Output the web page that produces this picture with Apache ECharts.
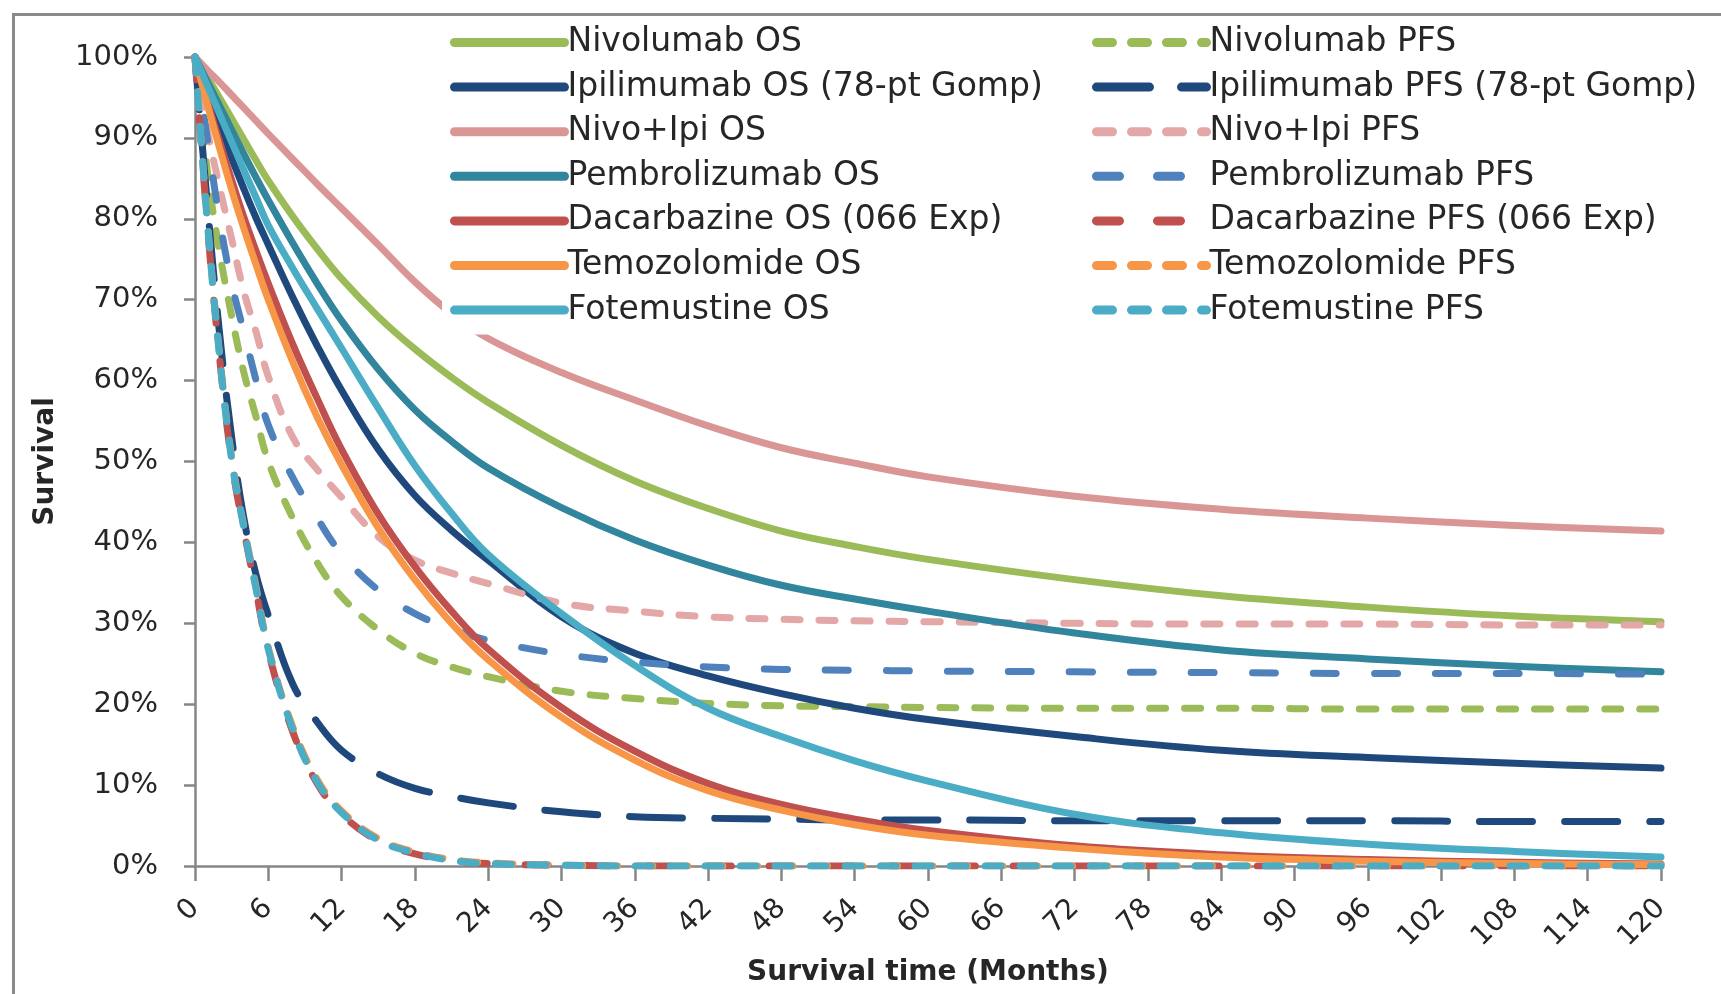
<!DOCTYPE html>
<html>
<head>
<meta charset="utf-8">
<title>Modelled OS and PFS curves</title>
<script src="https://cdn.jsdelivr.net/npm/echarts@6/dist/echarts.min.js"></script>
<style>
  html, body { margin: 0; padding: 0; background: #ffffff; }
  #chart { width: 1721px; height: 994px; }
</style>
</head>
<body>
<div id="chart"></div>
<script>
// Time points (months) shared by every curve
const months = [0, 1, 2, 3, 4, 5, 6, 8, 10, 12, 15, 18, 21, 24, 30, 36, 42, 48, 54, 60, 72, 84, 96, 108, 120];

// Survival (%) at each time point
const nivolumabOS      = [100, 97.5, 95, 92.4, 89.8, 87.2, 84.7, 80.3, 76.3, 72.6, 67.9, 63.9, 60.4, 57.3, 52, 47.6, 44.2, 41.4, 39.5, 37.9, 35.4, 33.4, 32.0, 30.9, 30.2];
const nivolumabPFS     = [100, 86, 76, 68, 61, 55.5, 50, 43, 37.5, 33.3, 29.2, 26.3, 24.6, 23.4, 21.6, 20.7, 20.1, 19.8, 19.7, 19.6, 19.5, 19.5, 19.4, 19.4, 19.4];
const ipilimumabOS     = [100, 95.7, 91.5, 87.5, 83.7, 80.1, 76.8, 70.3, 64.3, 58.8, 51.5, 45.8, 41.5, 37.8, 30.8, 26.3, 23.5, 21.3, 19.5, 18.1, 16.0, 14.3, 13.4, 12.7, 12.1];
const ipilimumabPFS    = [100, 82, 66, 53, 43, 36, 31, 22.5, 17.8, 14.3, 11.4, 9.6, 8.6, 7.8, 6.7, 6.1, 5.9, 5.8, 5.7, 5.7, 5.6, 5.6, 5.6, 5.5, 5.5];
const nivoIpiOS        = [100, 98.4, 96.9, 95.3, 93.7, 92.1, 90.5, 87.4, 84.3, 81.3, 76.8, 72.2, 68.3, 65.2, 61.0, 57.6, 54.4, 51.7, 49.8, 48.1, 45.7, 44.1, 43.0, 42.1, 41.4];
const nivoIpiPFS       = [100, 91, 84, 77.5, 71, 66, 60.5, 53, 49, 45.6, 40.7, 37.8, 36.2, 34.9, 32.5, 31.5, 30.8, 30.5, 30.3, 30.2, 30.0, 29.9, 29.9, 29.8, 29.8];
const pembrolizumabOS  = [100, 97, 94, 91, 88, 85.1, 82.3, 77, 72, 67.4, 61.4, 56.4, 52.5, 49.2, 44.3, 40.3, 37.2, 34.7, 33.0, 31.5, 28.8, 26.7, 25.6, 24.7, 24.0];
const pembrolizumabPFS = [100, 90, 80, 72, 66, 60, 54.5, 48, 43, 38.6, 34.1, 31.2, 29.3, 27.9, 26.2, 25.2, 24.6, 24.3, 24.2, 24.1, 24.0, 23.9, 23.8, 23.8, 23.7];
const dacarbazineOS    = [100, 94.6, 89.6, 84.8, 80.2, 76, 72, 64.5, 57.8, 51.5, 43.5, 37, 31.5, 26.8, 19.6, 14.2, 10.2, 7.6, 5.8, 4.4, 2.5, 1.4, 0.8, 0.45, 0.25];
const dacarbazinePFS   = [100, 79.5, 63, 50, 41.5, 34, 26.5, 16.6, 10.2, 6.4, 3.1, 1.5, 0.7, 0.3, 0.1, 0, 0, 0, 0, 0, 0, 0, 0, 0, 0];
const temozolomideOS   = [100, 94.2, 88.8, 83.6, 78.8, 74.3, 70, 62.3, 55.5, 49.6, 41.8, 35.4, 30, 25.5, 18.4, 13.1, 9.3, 6.9, 5.1, 3.8, 2.2, 1.1, 0.6, 0.3, 0.15];
const temozolomidePFS  = [100, 80, 63.5, 50.5, 42, 34.5, 27, 17.2, 10.7, 6.8, 3.4, 1.7, 0.8, 0.4, 0.1, 0, 0, 0, 0, 0, 0, 0, 0, 0, 0];
const fotemustineOS    = [100, 96.5, 93, 89.5, 86, 82.6, 79.2, 73.9, 68.9, 64, 56.6, 49.5, 43.6, 38.5, 31.2, 24.8, 19.5, 16.0, 13.0, 10.5, 6.4, 4.1, 2.7, 1.8, 1.1];
const fotemustinePFS   = [100, 79.8, 63.2, 50.2, 41.8, 34.2, 26.8, 16.9, 10.4, 6.6, 3.2, 1.6, 0.7, 0.3, 0.1, 0, 0, 0, 0, 0, 0, 0, 0, 0, 0];

// Axis ticks
const xTicks = { min: 0, max: 120, step: 6 };
const yTicks = { min: 0, max: 100, step: 10 };

// Dash patterns (line width 7, round caps)
const DASH_SHORT = [16, 19];
const DASH_MED = [23, 38];
const DASH_LONG = [53, 32];

const curves = [
  { name: 'Nivolumab OS', values: nivolumabOS, color: '#9BBB59', dash: 'solid' },
  { name: 'Nivolumab PFS', values: nivolumabPFS, color: '#9BBB59', dash: DASH_SHORT },
  { name: 'Ipilimumab OS (78-pt Gomp)', values: ipilimumabOS, color: '#1F497D', dash: 'solid' },
  { name: 'Ipilimumab PFS (78-pt Gomp)', values: ipilimumabPFS, color: '#1F497D', dash: DASH_LONG },
  { name: 'Nivo+Ipi OS', values: nivoIpiOS, color: '#D99694', dash: 'solid' },
  { name: 'Nivo+Ipi PFS', values: nivoIpiPFS, color: '#E2A7A6', dash: DASH_SHORT },
  { name: 'Pembrolizumab OS', values: pembrolizumabOS, color: '#31859C', dash: 'solid' },
  { name: 'Pembrolizumab PFS', values: pembrolizumabPFS, color: '#4F81BD', dash: DASH_MED },
  { name: 'Dacarbazine OS (066 Exp)', values: dacarbazineOS, color: '#C0504D', dash: 'solid' },
  { name: 'Dacarbazine PFS (066 Exp)', values: dacarbazinePFS, color: '#C0504D', dash: DASH_MED },
  { name: 'Temozolomide OS', values: temozolomideOS, color: '#F79646', dash: 'solid' },
  { name: 'Temozolomide PFS', values: temozolomidePFS, color: '#F79646', dash: DASH_SHORT },
  { name: 'Fotemustine OS', values: fotemustineOS, color: '#4BACC6', dash: 'solid' },
  { name: 'Fotemustine PFS', values: fotemustinePFS, color: '#4BACC6', dash: DASH_SHORT }
];

const FONT = '"DejaVu Sans", "Liberation Sans", sans-serif';
const AXIS_GREY = '#868686';
const TEXT_DARK = '#262626';

const series = curves.map(c => ({
  name: c.name,
  type: 'line',
  data: months.map((m, i) => [m, c.values[i]]),
  symbol: 'none',
  smooth: 0.4,
  clip: true,
  silent: true,
  lineStyle: { color: c.color, width: 7, type: c.dash, cap: 'round', join: 'round' },
  itemStyle: { color: c.color },
  emphasis: { disabled: true },
  z: 2
}));

function legendBlock(left, names) {
  return {
    orient: 'vertical',
    left: left,
    top: 18,
    padding: [8, 10, 8, 8],
    backgroundColor: '#ffffff',
    itemWidth: 110,
    itemHeight: 14,
    itemGap: 11.6,
    selectedMode: false,
    z: 10,
    data: names,
    itemStyle: { opacity: 0, borderWidth: 0 },
    lineStyle: { width: 9, cap: 'round' },
    textStyle: { fontFamily: FONT, fontSize: 33, lineHeight: 33, color: TEXT_DARK, padding: [0, 0, 0, -2] }
  };
}

const chart = echarts.init(document.getElementById('chart'), null, { renderer: 'canvas' });

chart.setOption({
  animation: false,
  backgroundColor: '#ffffff',
  grid: { left: 195, right: 60, top: 57, bottom: 128, containLabel: false, outerBoundsMode: 'none' },
  legend: [
    legendBlock(442, curves.filter((c, i) => i % 2 === 0).map(c => c.name)),
    legendBlock(1084, curves.filter((c, i) => i % 2 === 1).map(c => c.name))
  ],
  xAxis: {
    type: 'value',
    min: xTicks.min,
    max: xTicks.max,
    interval: xTicks.step,
    name: 'Survival time (Months)',
    nameLocation: 'middle',
    nameGap: 92,
    nameTextStyle: { fontFamily: FONT, fontSize: 28, fontWeight: 'bold', color: TEXT_DARK },
    axisLine: { show: true, onZero: false, lineStyle: { color: AXIS_GREY, width: 2.5 } },
    axisTick: { show: true, length: 15, lineStyle: { color: AXIS_GREY, width: 2.5 } },
    axisLabel: { rotate: 45, margin: 38, fontFamily: FONT, fontSize: 28, color: TEXT_DARK },
    splitLine: { show: false }
  },
  yAxis: {
    type: 'value',
    min: yTicks.min,
    max: yTicks.max,
    interval: yTicks.step,
    name: 'Survival',
    nameLocation: 'middle',
    nameRotate: 90,
    nameGap: 135,
    nameTextStyle: { fontFamily: FONT, fontSize: 28, fontWeight: 'bold', color: TEXT_DARK },
    axisLine: { show: true, lineStyle: { color: AXIS_GREY, width: 2.5 } },
    axisTick: { show: true, length: 11, lineStyle: { color: AXIS_GREY, width: 2.5 } },
    axisLabel: { margin: 37, fontFamily: FONT, fontSize: 29, color: TEXT_DARK, formatter: '{value}%' },
    splitLine: { show: false }
  },
  graphic: [{
    type: 'rect',
    left: 11,
    top: 12,
    shape: { width: 1760, height: 1020 },
    style: { fill: 'none', stroke: '#8a8a8a', lineWidth: 3 },
    silent: true,
    z: 0
  }],
  series: series
});
</script>
</body>
</html>
